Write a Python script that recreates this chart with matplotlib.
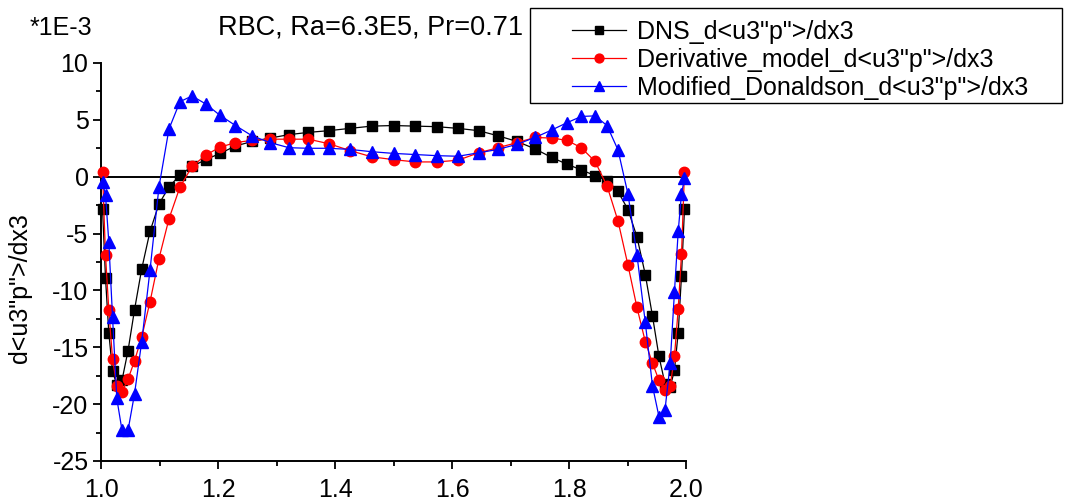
import matplotlib
matplotlib.use("Agg")
import matplotlib.pyplot as plt
from matplotlib.ticker import MultipleLocator
from matplotlib.patches import Rectangle

plt.rcParams['font.family'] = ['Liberation Sans', 'DejaVu Sans']

# wall-normal grid (clustered towards both plates)
x3 = [1.0026, 1.0077, 1.0133, 1.0197, 1.0270, 1.0359, 1.0462, 1.0573, 1.0696,
      1.0838, 1.0991, 1.1162, 1.1350, 1.1556, 1.1790, 1.2034, 1.2299, 1.2581,
      1.2889, 1.3214, 1.3547, 1.3897, 1.4256, 1.4627, 1.5000,
      1.5373, 1.5744, 1.6103, 1.6453, 1.6786, 1.7111, 1.7419, 1.7701, 1.7966,
      1.8210, 1.8444, 1.8650, 1.8838, 1.9009, 1.9162, 1.9304, 1.9427, 1.9538,
      1.9641, 1.9730, 1.9803, 1.9867, 1.9923, 1.9974]

# d<u3"p">/dx3 in units of 1E-3
dns = [-2.8, -8.9, -13.7, -17.1, -18.3, -17.9, -15.3, -11.7, -8.1, -4.8, -2.4,
       -0.9, 0.15, 0.9, 1.5, 2.05, 2.7, 3.1, 3.4, 3.7, 3.9, 4.05, 4.25, 4.45, 4.5,
       4.45, 4.4, 4.25, 4.05, 3.6, 3.1, 2.45, 1.7, 1.1, 0.6, 0.1, -0.35, -1.3,
       -2.9, -5.3, -8.6, -12.25, -15.8, -18.2, -18.5, -17.0, -13.7, -8.7, -2.85]

derivative_model = [0.4, -6.9, -11.7, -16.0, -18.4, -18.9, -17.8, -16.2, -14.1,
                    -11.0, -7.2, -3.7, -0.9, 0.9, 1.9, 2.6, 3.0, 3.2, 3.3, 3.3,
                    3.3, 2.9, 2.3, 1.75, 1.5,
                    1.3, 1.3, 1.45, 2.1, 2.55, 3.0, 3.45, 3.4, 3.2, 2.55, 1.35,
                    -0.8, -3.9, -7.8, -11.5, -14.5, -16.4, -17.9, -18.8, -18.4,
                    -15.8, -11.6, -6.8, 0.45]

modified_donaldson = [-0.5, -1.6, -5.7, -12.3, -19.5, -22.3, -22.3, -19.1, -14.5,
                      -8.2, -0.9, 4.2, 6.6, 7.1, 6.4, 5.4, 4.5, 3.6, 3.0, 2.55,
                      2.5, 2.5, 2.4, 2.2, 2.05,
                      1.95, 1.85, 1.8, 2.1, 2.4, 2.85, 3.45, 4.1, 4.75, 5.3, 5.35,
                      4.5, 2.35, -1.55, -6.9, -12.8, -18.4, -21.1, -20.5, -16.4,
                      -10.1, -4.8, -1.5, -0.15]

labels = ['DNS_d<u3"p">/dx3',
          'Derivative_model_d<u3"p">/dx3',
          'Modified_Donaldson_d<u3"p">/dx3']

W, H = 1070, 500
fig = plt.figure(figsize=(W / 100, H / 100), dpi=100)
ax = fig.add_axes([101 / W, 1 - 461 / H, 585 / W, 398 / H])

fs = 18
ax.plot(x3, dns, color='black', lw=0.9, marker='s', ms=6.5,
        label=labels[0], clip_on=False, zorder=3)
ax.plot(x3, derivative_model, color='red', lw=0.9, marker='o', ms=7.5,
        label=labels[1], clip_on=False, zorder=4)
ax.plot(x3, modified_donaldson, color='blue', lw=0.9, marker='^', ms=8.5,
        label=labels[2], clip_on=False, zorder=5)

ax.axhline(0, color='black', lw=1.4, zorder=2)

ax.set_xlim(1.0, 2.0)
ax.set_ylim(-25, 10)
ax.xaxis.set_major_locator(MultipleLocator(0.2))
ax.xaxis.set_minor_locator(MultipleLocator(0.1))
ax.yaxis.set_major_locator(MultipleLocator(5))
ax.yaxis.set_minor_locator(MultipleLocator(2.5))
ax.xaxis.set_major_formatter(plt.FuncFormatter(lambda v, p: f'{v:.1f}'))
ax.yaxis.set_major_formatter(plt.FuncFormatter(lambda v, p: f'{v:.0f}'))

for side in ('top', 'right'):
    ax.spines[side].set_visible(False)
for side in ('left', 'bottom'):
    ax.spines[side].set_linewidth(1.4)

ax.tick_params(axis='both', which='major', direction='out', length=6,
               width=1.3, labelsize=fs)
ax.tick_params(axis='both', which='minor', direction='out', length=3.5,
               width=1.3)
ax.tick_params(axis='x', which='major', pad=6)
ax.tick_params(axis='y', which='major', pad=3)

fig.text(30 / W, 1 - 28 / H, '*1E-3', fontsize=fs, ha='left', va='center')
fig.text(371 / W, 1 - 27 / H, 'RBC, Ra=6.3E5, Pr=0.71', fontsize=19.5,
         ha='center', va='center')
fig.text(20 / W, 1 - 288 / H, 'd<u3"p">/dx3', fontsize=fs, rotation=90,
         ha='center', va='center')

# legend frame drawn separately for tighter control of the padding
fig.patches.append(Rectangle((530 / W, 1 - 103 / H), 532 / W, 95 / H,
                             transform=fig.transFigure, fill=True,
                             facecolor='white', edgecolor='black', lw=1.0,
                             zorder=10))
leg = fig.legend(loc='upper left', bbox_to_anchor=(572 / W, 1 - 20 / H),
                 frameon=False, fontsize=fs, handlelength=2.15,
                 handletextpad=0.45, labelspacing=0.15, borderpad=0.0,
                 borderaxespad=0.0, markerscale=0.85)
leg.set_zorder(11)

fig.savefig('out.png', dpi=100)
